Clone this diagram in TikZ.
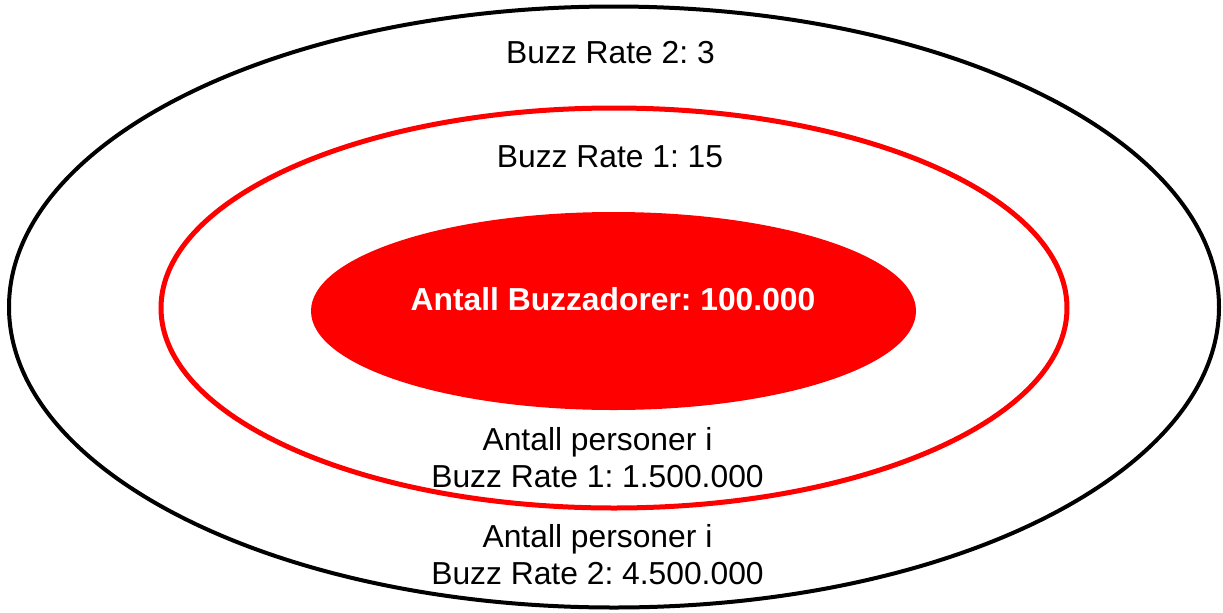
\documentclass[tikz,border=0pt]{standalone}
\usepackage{fontspec}
\setmainfont{Liberation Sans}
\usetikzlibrary{shapes.geometric}
\frenchspacing

\begin{document}
\begin{tikzpicture}[
                        x=0.5pt, y=-0.5pt,
                        ring/.style={ellipse, draw, line width=2pt, inner sep=0pt},
                        txt/.style={font=\fontsize{15.9}{18.25}\selectfont, align=center, anchor=base, inner sep=0pt}
                    ]
                    \useasboundingbox (0,0) rectangle (1223,612);
                    % Rings
                    \node [ring, black, minimum width=605pt, minimum height=300.5pt] (outer) at (614,307) {};
                    \node [ring, red, line width=2.5pt, minimum width=453pt, minimum height=200pt] (middle) at (614,308) {};
                    \node [ellipse, fill=red, inner sep=0pt, minimum width=302.5pt, minimum height=99pt] (core) at (613.5,311) {};

                    % Labels
                    \node [txt] (rate2) at (610.5,63) {Buzz Rate 2: 3};
                    \node [txt] (rate1) at (610,167) {Buzz Rate 1: 15};
                    \node [txt, text=white, font=\fontsize{15.9}{18.25}\selectfont\bfseries] (buzzers) at (613,310) {Antall Buzzadorer: 100.000};
                    \node [txt] (count1) at (597.5,487) {Antall personer i\\Buzz Rate 1: 1.500.000};
                    \node [txt] (count2) at (597.5,584) {Antall personer i\\Buzz Rate 2: 4.500.000};
                \end{tikzpicture}
\end{document}
